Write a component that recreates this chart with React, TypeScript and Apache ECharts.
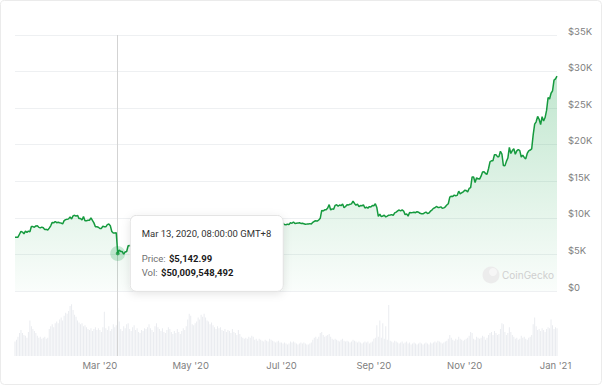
import React, { useEffect, useRef } from "react";
import * as echarts from "echarts";

// Daily prices (USD), starting 2020-01-04
const jan20 = [7345, 7358, 7359, 7759, 8155, 8059, 7817, 8197, 8020, 8184, 8110, 8810, 8809, 8716, 8900, 8910, 8703, 8631, 8734, 8657, 8390, 8434, 8340, 8596, 8913, 9376, 9319, 9506];
const feb20 = [9339, 9389, 9329, 9283, 9167, 9616, 9758, 9795, 9858, 10137, 9848, 10266, 10352, 10226, 10351, 9902, 9924, 9696, 10174, 9608, 9609, 9663, 9669, 9985, 9645, 9316, 8789, 8780, 8720];
const mar20 = [8545, 8555, 8852, 8784, 8772, 9078, 9149, 8931, 8136, 7940, 7937, 7954, 5142.99, 5616, 5385, 5395, 5034, 5343, 5404, 6191, 6210, 6185, 5831, 6475, 6767, 6722, 6752, 6380, 6263, 5879, 6412];
const apr20 = [6421, 6641, 6809, 6738, 6869, 6787, 7265, 7183, 7368, 7302, 6867, 6891, 6928, 6862, 6877, 6636, 7089, 7101, 7253, 7193, 6885, 6878, 7138, 7483, 7497, 7535, 7682, 7788, 7785, 8793];
const may20 = [8621, 8801, 8966, 8898, 8886, 9030, 9181, 9964, 9817, 9555, 8714, 8576, 8812, 9316, 9792, 9312, 9386, 9657, 9728, 9780, 9513, 9078, 9166, 9175, 8722, 8897, 8842, 9211, 9576, 9423, 9686];
const jun20 = [9463, 10171, 9518, 9669, 9781, 9615, 9677, 9746, 9782, 9775, 9889, 9335, 9470, 9468, 9389, 9456, 9536, 9480, 9406, 9301, 9358, 9294, 9692, 9623, 9299, 9242, 9162, 9007, 9127, 9185];
const jul20 = [9136, 9237, 9088, 9058, 9137, 9079, 9348, 9254, 9438, 9228, 9273, 9280, 9330, 9241, 9254, 9200, 9134, 9152, 9174, 9211, 9161, 9386, 9532, 9613, 9555, 9707, 9936, 11029, 10946, 11102, 11115];
const aug20 = [11352, 11802, 11073, 11230, 11186, 11710, 11782, 11582, 11758, 11665, 11889, 11397, 11557, 11780, 11769, 11866, 11914, 12302, 11967, 11738, 11869, 11524, 11675, 11652, 11767, 11342, 11467, 11328, 11536, 11478, 11683];
const sep20 = [11652, 11922, 11410, 10189, 10513, 10172, 10255, 10369, 10131, 10243, 10364, 10402, 10442, 10334, 10685, 10792, 10955, 11073, 10938, 11083, 10933, 10442, 10537, 10237, 10735, 10690, 10728, 10775, 10710, 10842];
const oct20 = [10776, 10620, 10571, 10548, 10676, 10793, 10603, 10668, 10915, 11064, 11297, 11384, 11555, 11426, 11429, 11505, 11320, 11367, 11515, 11758, 11925, 12823, 12965, 12931, 13108, 13031, 13075, 13654, 13271, 13437, 13546];
const nov20 = [13781, 13737, 13550, 14023, 14147, 15591, 15580, 14834, 15479, 15332, 15300, 15701, 16276, 16317, 16068, 15955, 16716, 17645, 17804, 17817, 18621, 18642, 18370, 18365, 19104, 18732, 17150, 17108, 17718, 18178];
const dec20 = [19633, 18802, 19201, 19446, 18699, 19155, 19345, 19191, 18321, 18553, 18264, 18058, 18803, 19164, 19273, 19427, 21335, 22806, 23137, 23870, 23478, 22745, 23824, 23249, 23716, 24693, 26443, 26246, 27037, 27360, 28841];
const jan21 = [29002, 29374];

// Daily volumes (billions USD)
const janVol = [15, 17, 20, 24, 27, 24, 22, 21, 19, 25, 37, 31, 28, 26, 24, 21, 19, 20, 18, 19, 20, 18, 19, 28, 31, 33, 30, 34];
const febVol = [36, 34, 38, 40, 37, 42, 45, 44, 47, 52, 54, 48, 43, 41, 37, 35, 33, 34, 31, 32, 30, 28, 27, 29, 26, 28, 30, 27, 29];
const marVol = [27, 25, 30, 46, 29, 27, 31, 26, 28, 33, 30, 32, 50.009548492, 36, 28, 26, 31, 29, 33, 34, 28, 26, 30, 32, 27, 29, 25, 24, 27, 26, 29];
const aprVol = [28, 30, 33, 29, 27, 25, 31, 34, 30, 28, 26, 29, 25, 24, 27, 30, 28, 25, 23, 26, 24, 28, 25, 23, 26, 29, 27, 31, 38, 44];
const mayVol = [42, 33, 32, 34, 36, 40, 38, 43, 41, 44, 40, 37, 36, 33, 35, 32, 30, 28, 31, 29, 30, 27, 26, 28, 25, 27, 26, 24, 28, 25, 24];
const junVol = [22, 27, 23, 20, 19, 18, 19, 18, 20, 19, 21, 20, 17, 18, 16, 18, 17, 16, 15, 17, 16, 15, 18, 17, 16, 15, 14, 15, 16, 14];
const julVol = [14, 13, 14, 13, 12, 13, 15, 14, 15, 14, 13, 12, 13, 14, 13, 14, 13, 12, 12, 13, 14, 17, 19, 20, 18, 20, 24, 25, 22, 20, 21];
const augVol = [22, 23, 20, 18, 17, 18, 17, 16, 15, 17, 18, 16, 15, 16, 15, 14, 15, 17, 16, 15, 14, 15, 14, 13, 14, 15, 14, 15, 13, 14, 15];
const sepVol = [18, 19, 32, 20, 37, 19, 34, 18, 31, 17, 53, 16, 15, 14, 16, 15, 14, 13, 14, 15, 13, 14, 15, 13, 14, 12, 13, 14, 13, 12];
const octVol = [13, 14, 13, 12, 13, 14, 13, 12, 14, 13, 14, 15, 14, 16, 15, 14, 13, 14, 15, 16, 18, 22, 19, 17, 16, 18, 17, 20, 18, 17, 16];
const novVol = [17, 18, 19, 21, 25, 24, 18, 17, 20, 19, 18, 19, 21, 20, 17, 19, 22, 24, 25, 22, 26, 24, 22, 23, 28, 34, 33, 25, 22, 24];
const decVol = [30, 25, 22, 20, 18, 19, 17, 18, 21, 19, 20, 18, 17, 19, 20, 22, 33, 40, 31, 27, 28, 26, 29, 27, 25, 28, 30, 29, 38, 32, 28];
const jan21Vol = [30, 29];

const START = [2020, 0, 4];
const HOVER_DATE = "2020-03-13";
const MONTHS = ["Jan", "Feb", "Mar", "Apr", "May", "Jun", "Jul", "Aug", "Sep", "Oct", "Nov", "Dec"];
const LABEL_MONTHS = [1, 3, 5, 7, 9, 11];
const PRICE_TICKS = { min: 0, max: 35000, interval: 5000 };

const prices = [...jan20, ...feb20, ...mar20, ...apr20, ...may20, ...jun20, ...jul20, ...aug20, ...sep20, ...oct20, ...nov20, ...dec20, ...jan21];
const volumes = [...janVol, ...febVol, ...marVol, ...aprVol, ...mayVol, ...junVol, ...julVol, ...augVol, ...sepVol, ...octVol, ...novVol, ...decVol, ...jan21Vol];
const dates = prices.map((_, i) => new Date(Date.UTC(START[0], START[1], START[2] + i)).toISOString().slice(0, 10));

const GREEN = "#159a3e";
const FONT = "Inter, 'Noto Sans', sans-serif";
const TIP_FONT = "Roboto, 'Liberation Sans', sans-serif";

function monthLabel(v: string) {
  const m = parseInt(v.slice(5, 7), 10);
  return `${MONTHS[m - 1]} '${v.slice(2, 4)}`;
}
function isLabelDate(v: string) {
  return v.slice(8, 10) === "01" && LABEL_MONTHS.indexOf(parseInt(v.slice(5, 7), 10)) >= 0;
}

export default function App() {
  const ref = useRef<HTMLDivElement>(null);
  useEffect(() => {
    const el = ref.current!;
    const chart = echarts.init(el, undefined, { renderer: "svg" });
    const hi = dates.indexOf(HOVER_DATE);
    const hPrice = prices[hi];
    const hVol = volumes[hi];
    chart.setOption({
      animation: false,
      textStyle: { fontFamily: FONT },
      grid: [
        { left: 15, width: 542, top: 35, height: 256 },
        { left: 15, width: 542, top: 296, height: 60 },
      ],
      xAxis: [
        {
          type: "category", gridIndex: 0, data: dates, boundaryGap: false,
          axisLine: { show: false }, axisTick: { show: false }, axisLabel: { show: false }, splitLine: { show: false },
        },
        {
          type: "category", gridIndex: 1, data: dates, boundaryGap: false,
          axisLine: { show: false }, axisTick: { show: false }, splitLine: { show: false },
          axisLabel: {
            interval: (_i: number, v: string) => isLabelDate(v),
            formatter: (v: string) => monthLabel(v),
            color: "#808080", fontSize: 9.5, margin: 4, fontFamily: FONT,
          },
        },
      ],
      yAxis: [
        {
          type: "value", gridIndex: 0, position: "right", ...PRICE_TICKS,
          axisLine: { show: false }, axisTick: { show: false },
          splitLine: { lineStyle: { color: "#eef0f2", width: 1 } },
          axisLabel: {
            formatter: (v: number) => (v === 0 ? "$0" : `$${v / 1000}K`),
            color: "#808080", fontSize: 9.5, margin: 11, verticalAlign: "bottom", lineHeight: 8, fontFamily: FONT,
          },
        },
        { type: "value", gridIndex: 1, min: 0, max: 62.5, show: false },
      ],
      series: [
        {
          type: "bar", xAxisIndex: 1, yAxisIndex: 1, data: volumes, barWidth: "62%",
          itemStyle: { color: "#eaecf0" }, silent: true, z: 1,
        },
        {
          type: "line", xAxisIndex: 0, yAxisIndex: 0, data: prices, showSymbol: false, z: 3,
          lineStyle: { color: GREEN, width: 1.5 },
          areaStyle: {
            color: new echarts.graphic.LinearGradient(0, 0, 0, 1, [
              { offset: 0, color: "rgba(22,163,74,0.38)" },
              { offset: 1, color: "rgba(22,163,74,0.03)" },
            ]),
          },
        },
        {
          type: "scatter", xAxisIndex: 0, yAxisIndex: 0, data: [[HOVER_DATE, hPrice]], symbolSize: 15, z: 4,
          itemStyle: { color: "rgba(22,163,74,0.28)" }, silent: true,
        },
        {
          type: "scatter", xAxisIndex: 0, yAxisIndex: 0, data: [[HOVER_DATE, hPrice]], symbolSize: 4, z: 5,
          itemStyle: { color: GREEN }, silent: true,
        },
      ],
    });

    const [px, py] = chart.convertToPixel({ gridIndex: 0 }, [HOVER_DATE, hPrice]) as number[];
    const yTop = chart.convertToPixel({ yAxisIndex: 0 }, PRICE_TICKS.max) as number;
    const yBot = chart.convertToPixel({ yAxisIndex: 1 }, 0) as number;
    const d = new Date(HOVER_DATE + "T00:00:00Z");
    const title = `${MONTHS[d.getUTCMonth()]} ${d.getUTCDate()}, ${d.getUTCFullYear()}, 08:00:00 GMT+8`;
    const priceTxt = "$" + hPrice.toLocaleString("en-US", { minimumFractionDigits: 2, maximumFractionDigits: 2 });
    const volTxt = "$" + Math.round(hVol * 1e9).toLocaleString("en-US");
    const rich = {
      l: { fill: "#6f6f6f", fontSize: 9.5, fontFamily: TIP_FONT },
      v: { fill: "#1a1a1a", fontSize: 9.5, fontWeight: "bold", fontFamily: TIP_FONT },
    };
    const tx = px + 12.5;
    const ty = py - 38;
    const TZ = 50;

    chart.setOption({
      graphic: [
        {
          type: "line", z: 2, silent: true,
          shape: { x1: Math.round(px) - 0.5, y1: yTop, x2: Math.round(px) - 0.5, y2: yBot },
          style: { stroke: "#d3d3d3", lineWidth: 1 },
        },
        {
          type: "rect", z: TZ, silent: true,
          shape: { x: tx, y: ty, width: 153, height: 76, r: 6 },
          style: { fill: "#ffffff", stroke: "#e2e2e2", lineWidth: 1, shadowBlur: 8, shadowColor: "rgba(0,0,0,0.10)", shadowOffsetY: 2 },
        },
        {
          type: "text", z: TZ + 1, silent: true, x: tx + 11.5, y: ty + 18,
          style: { text: title, fill: "#333333", fontSize: 9.5, fontFamily: TIP_FONT, verticalAlign: "middle" },
        },
        {
          type: "text", z: TZ + 1, silent: true, x: tx + 11.5, y: ty + 43,
          style: { text: `{l|Price:} {v|${priceTxt}}`, rich, verticalAlign: "middle" },
        },
        {
          type: "text", z: TZ + 1, silent: true, x: tx + 11.5, y: ty + 57,
          style: { text: `{l|Vol:} {v|${volTxt}}`, rich, verticalAlign: "middle" },
        },
        { type: "circle", z: 8, silent: true, shape: { cx: 491, cy: 275, r: 8.5 }, style: { fill: "#ececec" } },
        { type: "circle", z: 9, silent: true, shape: { cx: 493, cy: 272, r: 4 }, style: { fill: "#f6f6f6" } },
        {
          type: "text", z: 9, silent: true, x: 502, y: 275,
          style: { text: "CoinGecko", fill: "#cfcfcf", fontSize: 10, fontFamily: FONT, verticalAlign: "middle" },
        },
        {
          type: "rect", z: 60, silent: true,
          shape: { x: 0.5, y: 0.5, width: 601, height: 384, r: 4 },
          style: { fill: "none", stroke: "#ebebeb", lineWidth: 1 },
        },
      ],
    });

    return () => chart.dispose();
  }, []);
  return <div ref={ref} style={{ position: "fixed", left: 0, top: 0, width: 602, height: 385, background: "#fff" }} />;
}
